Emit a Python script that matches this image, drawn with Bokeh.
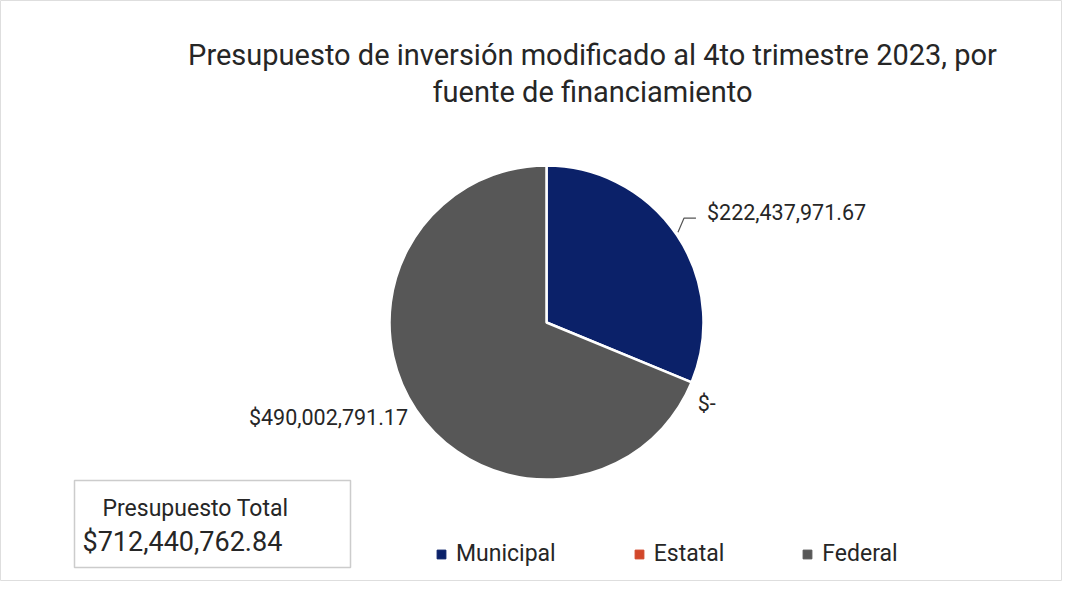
import math
from bokeh.plotting import figure
from bokeh.models import Range1d, Label, Legend, LegendItem, ColumnDataSource, BoxAnnotation
from bokeh.embed import file_html
from bokeh.resources import INLINE

# ---- data ----
categories = ["Municipal", "Estatal", "Federal"]
amounts = [222437971.67, 0.0, 490002791.17]
colors = ["#0b2169", "#d2472a", "#575757"]
title_lines = ["Presupuesto de inversión modificado al 4to trimestre 2023, por",
               "fuente de financiamiento"]
total_caption = "Presupuesto Total"

FONT = "Roboto"
W, H = 1062, 581

p = figure(width=W, height=H, x_range=Range1d(0, W), y_range=Range1d(0, H),
           output_backend="svg", toolbar_location=None, min_border=0)
p.axis.visible = False
p.grid.visible = False
p.outline_line_color = "#dedede"
p.background_fill_color = "white"

# ---- pie ----
cx, cy, R = 546, 259, 157
total = sum(amounts)
starts, ends, mids = [], [], []
a = math.pi / 2
for v in amounts:
    sweep = 2 * math.pi * v / total
    starts.append(a - sweep)
    ends.append(a)
    mids.append(a - sweep / 2)
    a -= sweep

keep = [i for i, v in enumerate(amounts) if v > 0]
src = ColumnDataSource(dict(cat=[categories[i] for i in keep],
                            start=[starts[i] for i in keep],
                            end=[ends[i] for i in keep],
                            color=[colors[i] for i in keep],
                            x=[cx] * len(keep), y=[cy] * len(keep)))
p.wedge(x="x", y="y", radius=R, start_angle="start", end_angle="end",
        fill_color="color", line_color="white", line_width=2.5, source=src)


def fmt(v):
    return "$-" if v == 0 else "${:,.2f}".format(v)


# ---- data labels ----
for i, v in enumerate(amounts):
    m = mids[i] if v > 0 else starts[i]
    px, py = cx + R * math.cos(m), cy + R * math.sin(m)
    if i == 0:
        ex, ey = px + 7, py + 17
        p.line([px + 1, ex, ex + 12], [py + 3, ey, ey], line_color="#555555", line_width=1.2)
        x, y, al = px + 30, py + 23, "left"
    elif i == 1:
        x, y, al = px + 6, py - 21, "left"
    else:
        x, y, al = px - 8, py - 8, "right"
    p.add_layout(Label(x=x, y=y, text=fmt(v), text_align=al, text_baseline="middle",
                       text_font=FONT, text_font_size="21.5px", text_color="#262626"))

# ---- title ----
for k, line in enumerate(title_lines):
    p.add_layout(Label(x=592, y=527 - 37 * k, text=line, text_align="center",
                       text_baseline="middle", text_font=FONT, text_font_size="29px",
                       text_color="#262626"))

# ---- total box ----
p.add_layout(BoxAnnotation(left=74, right=350, bottom=14, top=101, fill_color="white",
                           fill_alpha=1, line_color="#555555", line_width=1.5))
p.add_layout(Label(x=102, y=73, text=total_caption, text_align="left", text_baseline="middle",
                   text_font=FONT, text_font_size="23px", text_color="#262626"))
p.add_layout(Label(x=82, y=40, text=fmt(total), text_align="left", text_baseline="middle",
                   text_font=FONT, text_font_size="27px", text_color="#262626"))

# ---- legend ----
items = []
for c, name in zip(colors, categories):
    r = p.scatter(x=[-1000], y=[-1000], marker="square", size=9, fill_color=c, line_color=c)
    items.append(LegendItem(label=name, renderers=[r]))
leg = Legend(items=items, orientation="horizontal", location=(430, 14),
             glyph_width=22, glyph_height=22, label_standoff=4, spacing=72,
             padding=0, margin=0, border_line_color=None, background_fill_alpha=0,
             label_text_font=FONT, label_text_font_size="23px", label_text_color="#262626",
             label_height=22)
p.add_layout(leg, "center")

open("out.html", "w").write(file_html(p, INLINE))
